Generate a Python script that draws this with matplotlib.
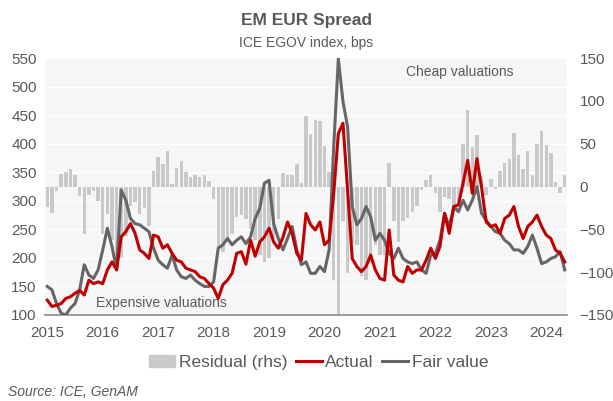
import numpy as np
import matplotlib.pyplot as plt
from matplotlib.patches import Patch
from matplotlib.lines import Line2D

plt.rcParams['font.family'] = ['Liberation Sans', 'DejaVu Sans']

# monthly data, Jan 2015 .. May 2024
years = ['2015', '2016', '2017', '2018', '2019', '2020', '2021', '2022', '2023', '2024']

residual = [-24, -31, -5, 15, 17, 21, 14, -11, -55, -10, -5, -17,
            -55, -32, -62, -85, -83, -58, -23, -18, -32, -25, -46, 18,
            35, 26, 41, 3, 22, 30, 17, 11, 14, 11, 14, 7,
            -15, -72, -76, -65, -55, -35, -33, -38, -50, -62, -80, -88,
            -84, -60, -38, 16, 14, 13, 26, 4, 82, 61, 78, 77,
            47, 17, -109, -150, -40, -101, -66, -68, -105, -109, -89, -68,
            -80, -80, 28, -40, -65, -40, -37, -30, -23, -4, 8, 13,
            -7, -30, -12, -15, -25, -18, 50, 89, 46, 60, 12, -10,
            9, -3, 18, 28, 32, 63, 37, 20, 41, 13, 50, 65,
            49, 39, 5, -7, 14]

actual = [126, 115, 117, 120, 129, 132, 138, 143, 135, 161, 155, 158,
          155, 179, 193, 179, 237, 246, 260, 243, 214, 208, 199, 240,
          237, 217, 223, 208, 196, 193, 182, 179, 176, 167, 164, 155,
          147, 129, 153, 161, 173, 208, 211, 189, 231, 203, 228, 237,
          252, 228, 217, 236, 263, 243, 208, 196, 278, 258, 249, 263,
          223, 231, 313, 418, 436, 319, 199, 185, 176, 185, 205, 179,
          164, 161, 249, 170, 161, 158, 185, 173, 179, 179, 196, 217,
          199, 220, 278, 243, 290, 293, 331, 371, 313, 374, 324, 263,
          255, 258, 243, 269, 275, 290, 255, 234, 255, 263, 275, 255,
          240, 234, 214, 208, 193]

fair_value = [150, 144, 120, 103, 100, 112, 120, 144, 188, 170, 164, 179,
              214, 252, 220, 179, 319, 301, 269, 260, 258, 252, 246, 217,
              196, 188, 182, 205, 179, 167, 164, 170, 161, 155, 150, 150,
              158, 217, 223, 234, 223, 231, 237, 225, 237, 269, 287, 331,
              336, 260, 234, 214, 234, 255, 214, 188, 193, 173, 173, 185,
              176, 214, 395, 549, 474, 430, 290, 258, 269, 290, 272, 231,
              243, 231, 208, 199, 217, 199, 193, 190, 193, 179, 173, 205,
              208, 231, 278, 255, 290, 281, 301, 284, 301, 325, 278, 266,
              255, 246, 243, 231, 225, 214, 214, 208, 220, 240, 217, 190,
              193, 199, 202, 211, 179]

months = np.arange(len(actual))
txt = '#595959'

fig = plt.figure(figsize=(6.13, 4.01), dpi=100)
ax2 = fig.add_axes([0.0734, 0.2145, 0.8516, 0.6405])   # residual, right axis
ax = ax2.twinx()                                        # lines, left axis
ax.yaxis.tick_left()
ax2.yaxis.tick_right()
ax.set_zorder(ax2.get_zorder() + 1)
ax.patch.set_visible(False)
ax2.set_facecolor('#f6f6f6')

ax2.bar(months, residual, width=0.75, color='#c9c9c9', zorder=2)
ax2.set_ylim(-150, 150)
ax2.set_yticks(range(-150, 151, 50))

ax.plot(months, fair_value, color='#666666', lw=2.2, zorder=3)
ax.plot(months, actual, color='#c00000', lw=2.2, zorder=4)
ax.set_ylim(100, 550)
ax.set_yticks(range(100, 551, 50))
for v in range(150, 551, 50):
    ax2.axhline(-150 + (v - 100) * 300 / 450, color='white', lw=1, zorder=1)

ax.set_xlim(-0.5, len(actual) - 0.5)
ax2.set_xticks(np.arange(0, 12 * len(years), 12))
ax2.set_xticklabels(years)

for a in (ax, ax2):
    for s in a.spines.values():
        s.set_visible(False)
    a.tick_params(length=0, colors=txt, labelsize=11)
ax2.spines['bottom'].set_visible(True)
ax2.spines['bottom'].set_color('#8c8c8c')
ax2.spines['bottom'].set_linewidth(1.2)
ax.tick_params(axis='y', pad=6)
ax2.tick_params(axis='y', pad=9)
ax2.tick_params(axis='x', pad=8)

ax.text(89.3, 525, 'Cheap valuations', color=txt, fontsize=10, ha='center', va='center')
ax.text(24.8, 121, 'Expensive valuations', color=txt, fontsize=10, ha='center', va='center')

fig.text(0.5, 0.95, 'EM EUR Spread', ha='center', va='center', fontsize=12.5,
         fontweight='bold', color=txt)
fig.text(0.5, 0.893, 'ICE EGOV index, bps', ha='center', va='center', fontsize=10, color=txt)
fig.text(0.013, 0.022, 'Source: ICE, GenAM', ha='left', va='center', fontsize=10,
         style='italic', color=txt)

handles = [Patch(color='#c9c9c9'),
           Line2D([], [], color='#c00000', lw=2.2),
           Line2D([], [], color='#666666', lw=2.2)]
fig.legend(handles, ['Residual (rhs)', 'Actual', 'Fair value'], loc='center',
           bbox_to_anchor=(0.52, 0.095), ncol=3, frameon=False, fontsize=12.5,
           labelcolor=txt, handlelength=1.5, handletextpad=0.2, columnspacing=0.5)

fig.savefig('out.png', dpi=100)
